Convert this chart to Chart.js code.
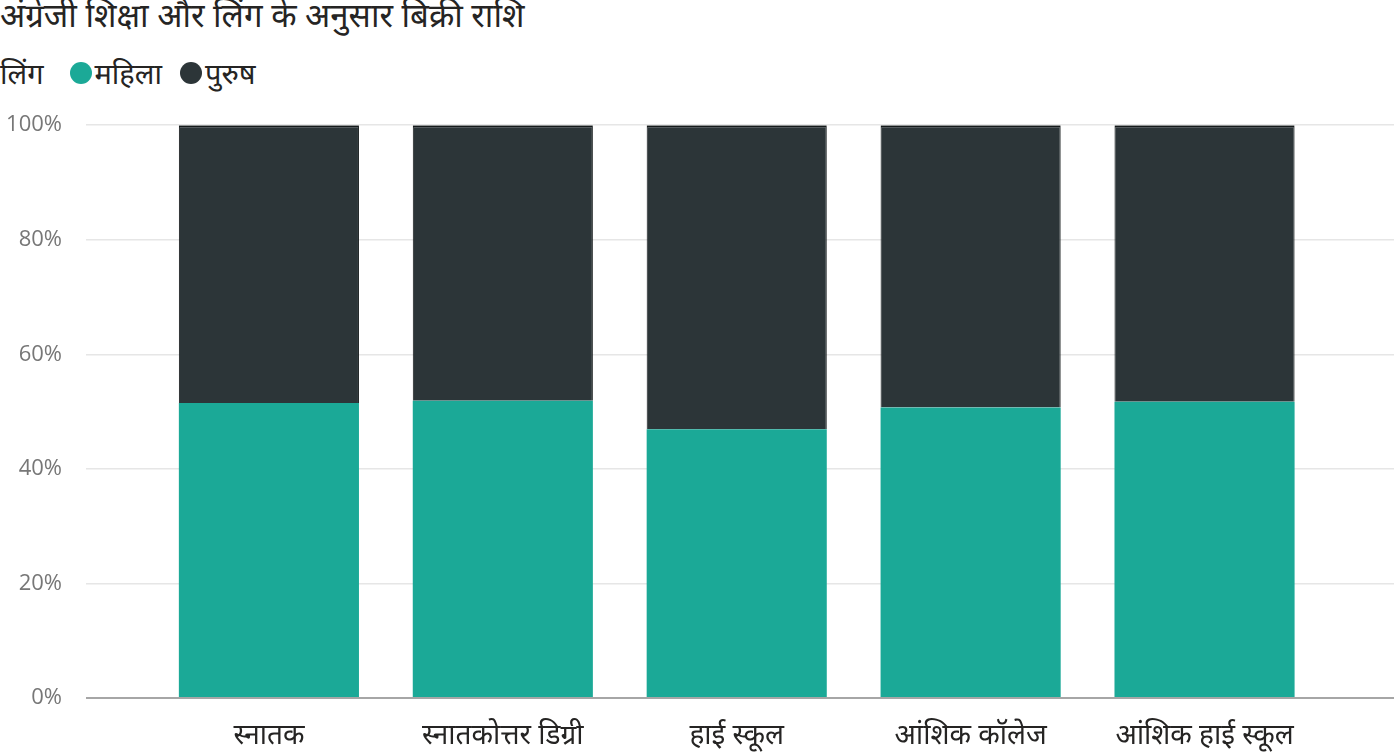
<!DOCTYPE html>
<html>
<head>
<meta charset="utf-8">
<script src="https://cdn.jsdelivr.net/npm/chart.js@4/dist/chart.umd.min.js"></script>
<style>
  html, body { margin: 0; padding: 0; background: #fff; }
  body { width: 1394px; height: 752px; overflow: hidden; position: relative; font-family: "Noto Sans", "Open Sans", sans-serif; }
  #title { position: absolute; left: 0; top: -8px; font-size: 33px; color: #252423; white-space: nowrap; }
  #legend { position: absolute; left: 0; top: 53px; font-size: 29px; color: #252423; display: flex; align-items: center; white-space: nowrap; }
  #legend .dot { display: inline-block; width: 22px; height: 22px; border-radius: 50%; margin-right: 3px; }
  #legend .item { display: flex; align-items: center; margin-right: 18px; }
  #wrap { position: absolute; left: 0; top: 88px; width: 1394px; height: 664px; }
</style>
</head>
<body>
<div id="title">अंग्रेजी शिक्षा और लिंग के अनुसार बिक्री राशि</div>
<div id="legend"></div>
<div id="wrap"><canvas id="salesChart"></canvas></div>
<script>
// categories and share of sales (percent) per gender
const categories = ['स्नातक', 'स्नातकोत्तर डिग्री', 'हाई स्कूल', 'आंशिक कॉलेज', 'आंशिक हाई स्कूल'];
const femaleShare = [51.5, 51.9, 46.9, 50.7, 51.7];
const maleShare = [48.5, 48.1, 53.1, 49.3, 48.3];
const yTicks = [0, 20, 40, 60, 80, 100];
const legendTitle = 'लिंग';
const seriesNames = ['महिला', 'पुरुष'];
const seriesColors = ['#1ba997', '#2c3538'];

document.addEventListener('DOMContentLoaded', function() {
    // html legend, inline like the original
    const legend = document.getElementById('legend');
    let html = '<span style="margin-right:26px">' + legendTitle + '</span>';
    seriesNames.forEach((name, i) => {
        html += '<span class="item"><span class="dot" style="background:' + seriesColors[i] + '"></span>' + name + '</span>';
    });
    legend.innerHTML = html;

    const toPoints = arr => arr.map((v, i) => ({ x: i, y: v }));

    const ctx = document.getElementById('salesChart').getContext('2d');
    new Chart(ctx, {
        type: 'bar',
        data: {
            datasets: [{
                label: seriesNames[0],
                data: toPoints(femaleShare),
                backgroundColor: seriesColors[0],
                borderWidth: 0
            }, {
                label: seriesNames[1],
                data: toPoints(maleShare),
                backgroundColor: seriesColors[1],
                borderColor: '#151a1b',
                borderWidth: { top: 2, left: 1, right: 1, bottom: 0 },
                borderSkipped: 'bottom'
            }]
        },
        options: {
            responsive: true,
            maintainAspectRatio: false,
            animation: false,
            layout: { padding: { top: 12, right: 0, bottom: 0, left: 0 } },
            plugins: { legend: { display: false }, tooltip: { enabled: false } },
            datasets: { bar: { categoryPercentage: 0.77, barPercentage: 1 } },
            scales: {
                x: {
                    type: 'linear',
                    stacked: true,
                    offset: false,
                    min: -0.782,
                    max: 4.81,
                    grid: { display: false },
                    border: { display: false },
                    afterBuildTicks: axis => { axis.ticks = categories.map((c, i) => ({ value: i })); },
                    afterFit: axis => { axis.height = 54; },
                    ticks: {
                        padding: 13,
                        color: '#252423',
                        font: { family: 'Noto Sans, sans-serif', size: 28 },
                        callback: v => categories[v]
                    }
                },
                y: {
                    stacked: true,
                    min: 0,
                    max: 100,
                    afterBuildTicks: axis => { axis.ticks = yTicks.map(v => ({ value: v })); },
                    afterFit: axis => { axis.width = 86; },
                    grid: {
                        drawTicks: false,
                        color: c => c.tick && c.tick.value === 0 ? '#a6a6a6' : '#e6e6e6',
                        lineWidth: c => c.tick && c.tick.value === 0 ? 2 : 1.5
                    },
                    border: { display: false },
                    ticks: {
                        padding: 24,
                        color: '#777777',
                        font: { family: 'Open Sans, sans-serif', size: 22 },
                        callback: v => v + '%'
                    }
                }
            }
        }
    });
});
</script>
</body>
</html>
